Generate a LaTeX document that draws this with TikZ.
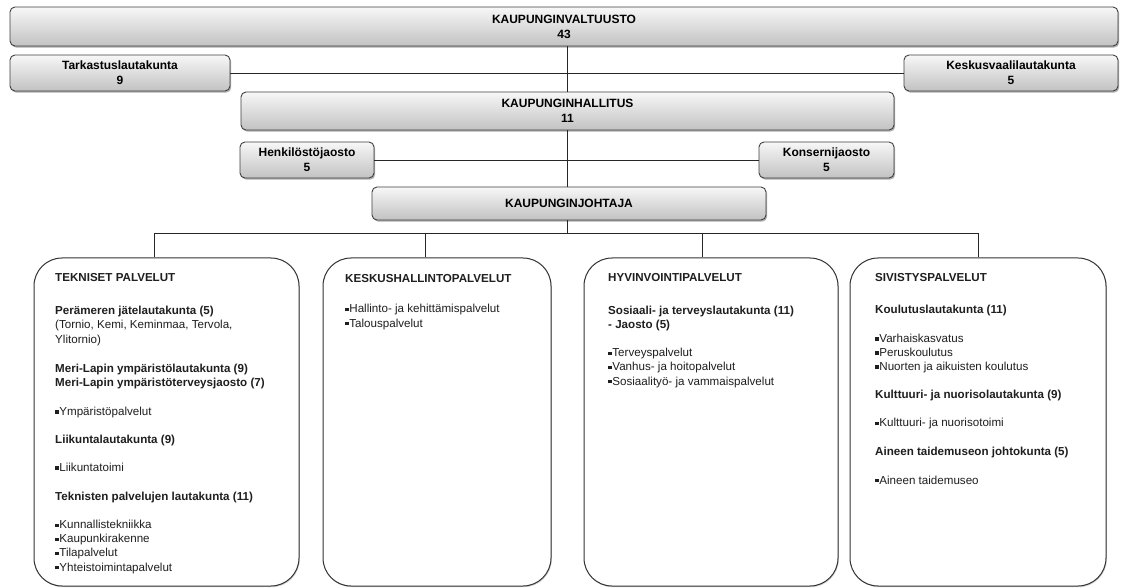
\documentclass[tikz,border=0pt]{standalone}
\usepackage{fontspec}
\setmainfont{Liberation Sans}
\usetikzlibrary{shadows}
\newcommand\mysq{\raisebox{1.8pt}{\rule{3.4pt}{3.4pt}}\hspace{0.8pt}}
\begin{document}
\begin{tikzpicture}[x=1pt,y=-1pt,
  sbox/.style={draw=black!75, line width=0.9pt, rounded corners=5pt,
    top color=black!3, bottom color=black!24,
    drop shadow={shadow xshift=1.2pt, shadow yshift=-1.6pt, fill=black!70, opacity=0.45},
    align=center, font=\fontsize{12}{15}\selectfont\bfseries, inner sep=0pt},
  bbox/.style={draw=black!80, line width=1pt, rounded corners=28pt, fill=white,
    drop shadow={shadow xshift=0.8pt, shadow yshift=-1.2pt, fill=black!50, opacity=0.35}, inner sep=0pt},
  btext/.style={anchor=base west, align=left, inner sep=0pt, text=black!88,
    font=\fontsize{11.6}{14.1}\selectfont},
  conn/.style={draw=black!85, line width=0.9pt}
]
\fill[white] (0,0) rectangle (1122,588);
\useasboundingbox (0,0) rectangle (1122,588);

% top boxes
\node[sbox, minimum width=1108pt, minimum height=39pt] (valt) at (564,26.5) {KAUPUNGINVALTUUSTO\\43};
\node[sbox, minimum width=220pt, minimum height=36pt] (tark) at (120,73) {Tarkastuslautakunta\\9};
\node[sbox, minimum width=214pt, minimum height=36pt] (kesk) at (1011,73) {Keskusvaalilautakunta\\5};
\node[sbox, minimum width=653pt, minimum height=38pt] (hall) at (567.5,111) {KAUPUNGINHALLITUS\\11};
\node[sbox, minimum width=134pt, minimum height=36pt] (henk) at (307,160) {Henkilöstöjaosto\\5};
\node[sbox, minimum width=135pt, minimum height=36pt] (kons) at (826.5,160) {Konsernijaosto\\5};
\node[sbox, minimum width=394pt, minimum height=33pt] (joht) at (569,203.5) {KAUPUNGINJOHTAJA};

% big boxes
\node[bbox, minimum width=265pt, minimum height=328pt] (tek) at (166.5,422) {};
\node[bbox, minimum width=228pt, minimum height=328pt] (kesh) at (437,422) {};
\node[bbox, minimum width=254pt, minimum height=328pt] (hyv) at (711,422) {};
\node[bbox, minimum width=256pt, minimum height=328pt] (siv) at (978,422) {};

% connectors
\coordinate (b1) at (154,233);
\coordinate (b2) at (425,233);
\coordinate (b3) at (702,233);
\coordinate (b4) at (978,233);
\draw[conn] (tark.east) -- (kesk.west);
\draw[conn] (valt.south -| hall.north) -- (hall.north);
\draw[conn] (henk.east) -- (kons.west);
\draw[conn] (hall.south) -- (hall.south |- joht.north);
\draw[conn] (joht.south -| hall.south) -- (hall.south |- b1);
\draw[conn] (b1) -- (b4);
\draw[conn] (b1) -- (b1 |- tek.north);
\draw[conn] (b2) -- (b2 |- kesh.north);
\draw[conn] (b3) -- (b3 |- hyv.north);
\draw[conn] (b4) -- (b4 |- siv.north);

% texts (anchored at the baseline of their last line)
\node[btext] (tektxt) at (55,571) {\textbf{TEKNISET PALVELUT}\\[19pt]
\textbf{Perämeren jätelautakunta (5)}\\
(Tornio, Kemi, Keminmaa, Tervola,\\
Ylitornio)\\[15pt]
\textbf{Meri-Lapin ympäristölautakunta (9)}\\
\textbf{Meri-Lapin ympäristöterveysjaosto (7)}\\[15pt]
\mysq Ympäristöpalvelut\\[14pt]
\textbf{Liikuntalautakunta (9)}\\[14pt]
\mysq Liikuntatoimi\\[15pt]
\textbf{Teknisten palvelujen lautakunta (11)}\\[14pt]
\mysq Kunnallistekniikka\\
\mysq Kaupunkirakenne\\
\mysq Tilapalvelut\\
\mysq Yhteistoimintapalvelut};

\node[btext] (keshtxt) at (345,327) {\textbf{KESKUSHALLINTOPALVELUT}\\[16pt]
\mysq Hallinto- ja kehittämispalvelut\\
\mysq Talouspalvelut};

\node[btext] (hyvtxt) at (608,385) {\textbf{HYVINVOINTIPALVELUT}\\[19pt]
\textbf{Sosiaali- ja terveyslautakunta (11)}\\
\textbf{- Jaosto (5)}\\[14pt]
\mysq Terveyspalvelut\\
\mysq Vanhus- ja hoitopalvelut\\
\mysq Sosiaalityö- ja vammaispalvelut};

\node[btext] (sivtxt) at (875,484) {\textbf{SIVISTYSPALVELUT}\\[18pt]
\textbf{Koulutuslautakunta (11)}\\[15pt]
\mysq Varhaiskasvatus\\
\mysq Peruskoulutus\\
\mysq Nuorten ja aikuisten koulutus\\[14pt]
\textbf{Kulttuuri- ja nuorisolautakunta (9)}\\[14pt]
\mysq Kulttuuri- ja nuorisotoimi\\[15pt]
\textbf{Aineen taidemuseon johtokunta (5)}\\[14pt]
\mysq Aineen taidemuseo};
\end{tikzpicture}
\end{document}
